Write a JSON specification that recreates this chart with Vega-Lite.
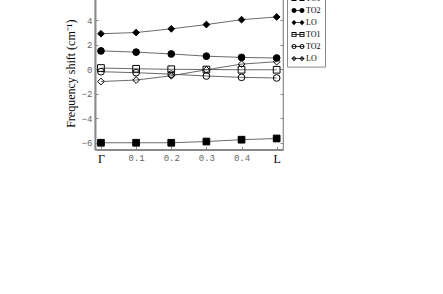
{
  "$schema": "https://vega.github.io/schema/vega-lite/v6.json",
  "autosize": {"type": "none"},
  "padding": {"left": 95, "top": -3, "right": 160, "bottom": 144.5},
  "width": 188,
  "height": 152.5,
  "background": "white",
  "config": {
    "view": {"stroke": "#8a8a8a", "strokeWidth": 1.2},
    "axis": {"grid": false},
    "legend": {
      "orient": "none",
      "legendX": 192,
      "legendY": -6.4,
      "fillColor": "white",
      "strokeColor": "#8a8a8a",
      "padding": 4,
      "symbolSize": 42,
      "symbolStrokeWidth": 0,
      "symbolFillColor": "black",
      "symbolOffset": 3,
      "labelOffset": 4,
      "rowPadding": 4,
      "labelFont": "Liberation Serif",
      "labelFontSize": 8,
      "labelColor": "black"
    }
  },
  "data": {
    "values": [
      {"s": "TO1f", "q": 0.0, "v": -6.0}, {"s": "TO1f", "q": 0.1, "v": -6.0}, {"s": "TO1f", "q": 0.2, "v": -6.0},
      {"s": "TO1f", "q": 0.3, "v": -5.9}, {"s": "TO1f", "q": 0.4, "v": -5.75}, {"s": "TO1f", "q": 0.5, "v": -5.65},
      {"s": "TO2f", "q": 0.0, "v": 1.5}, {"s": "TO2f", "q": 0.1, "v": 1.4}, {"s": "TO2f", "q": 0.2, "v": 1.25},
      {"s": "TO2f", "q": 0.3, "v": 1.07}, {"s": "TO2f", "q": 0.4, "v": 0.97}, {"s": "TO2f", "q": 0.5, "v": 0.92},
      {"s": "LOf", "q": 0.0, "v": 2.9}, {"s": "LOf", "q": 0.1, "v": 3.0}, {"s": "LOf", "q": 0.2, "v": 3.3},
      {"s": "LOf", "q": 0.3, "v": 3.65}, {"s": "LOf", "q": 0.4, "v": 4.05}, {"s": "LOf", "q": 0.5, "v": 4.27},
      {"s": "TO1o", "q": 0.0, "v": 0.1}, {"s": "TO1o", "q": 0.1, "v": 0.04}, {"s": "TO1o", "q": 0.2, "v": 0.0},
      {"s": "TO1o", "q": 0.3, "v": -0.02}, {"s": "TO1o", "q": 0.4, "v": -0.04}, {"s": "TO1o", "q": 0.5, "v": -0.04},
      {"s": "TO2o", "q": 0.0, "v": -0.2}, {"s": "TO2o", "q": 0.1, "v": -0.28}, {"s": "TO2o", "q": 0.2, "v": -0.4},
      {"s": "TO2o", "q": 0.3, "v": -0.55}, {"s": "TO2o", "q": 0.4, "v": -0.66}, {"s": "TO2o", "q": 0.5, "v": -0.71},
      {"s": "LOo", "q": 0.0, "v": -1.0}, {"s": "LOo", "q": 0.1, "v": -0.88}, {"s": "LOo", "q": 0.2, "v": -0.53},
      {"s": "LOo", "q": 0.3, "v": -0.04}, {"s": "LOo", "q": 0.4, "v": 0.42}, {"s": "LOo", "q": 0.5, "v": 0.62}
    ]
  },
  "encoding": {
    "x": {
      "field": "q", "type": "quantitative",
      "scale": {"domain": [-0.017, 0.518], "nice": false, "zero": false},
      "axis": {
        "values": [0, 0.1, 0.2, 0.3, 0.4, 0.5],
        "title": null,
        "labelExpr": "datum.value == 0 ? 'Γ' : (datum.value > 0.45 ? 'L' : format(datum.value, '.1f'))",
        "labelFont": {"condition": {"test": "datum.value == 0 || datum.value > 0.45", "value": "Liberation Serif"}, "value": "Liberation Mono"},
        "labelFontSize": {"condition": {"test": "datum.value == 0 || datum.value > 0.45", "value": 12}, "value": 9},
        "labelColor": {"condition": {"test": "datum.value == 0 || datum.value > 0.45", "value": "black"}, "value": "#666666"},
        "labelPadding": 7,
        "labelFlush": false,
        "tickSize": -3,
        "tickColor": "#888888",
        "domainColor": "#8a8a8a",
        "domainWidth": 2
      }
    },
    "y": {
      "field": "v", "type": "quantitative",
      "scale": {"domain": [-6.55, 5.9], "nice": false, "zero": false}
    }
  },
  "layer": [
    {
      "mark": {"type": "line", "stroke": "#444444", "strokeWidth": 0.8},
      "encoding": {
        "detail": {"field": "s"},
        "y": {
          "field": "v", "type": "quantitative",
          "axis": {
            "values": [-6, -4, -2, 0, 2, 4],
            "title": "Frequency shift (cm⁻¹)",
            "titleFont": "Liberation Serif",
            "titleFontSize": 12,
            "titleFontWeight": "normal",
            "titleColor": "black",
            "titlePadding": 4,
            "labelFont": "Liberation Mono",
            "labelFontSize": 9,
            "labelColor": "#666666",
            "labelPadding": 6,
            "tickSize": -3,
            "tickColor": "#888888",
            "domainColor": "#8a8a8a",
            "domainWidth": 2
          }
        }
      }
    },
    {
      "mark": {"type": "point", "stroke": "black", "strokeWidth": 1, "opacity": 1, "size": 45},
      "encoding": {
        "y": {
          "field": "v", "type": "quantitative",
          "axis": {
            "orient": "right",
            "values": [-6, -4, -2, 0, 2, 4],
            "labels": false,
            "title": null,
            "domain": false,
            "tickSize": -3,
            "tickColor": "#888888"
          }
        },
        "shape": {
          "field": "s", "type": "nominal",
          "scale": {
            "domain": ["TO1f", "TO2f", "LOf", "TO1o", "TO2o", "LOo"],
            "range": ["square", "circle", "diamond", "square", "circle", "diamond"]
          },
          "legend": null
        },
        "fill": {
          "field": "s", "type": "nominal",
          "scale": {
            "domain": ["TO1f", "TO2f", "LOf", "TO1o", "TO2o", "LOo"],
            "range": ["black", "black", "black", "transparent", "transparent", "transparent"]
          },
          "legend": null
        }
      }
    },
    {
      "transform": [{"filter": "datum.q > 1"}],
      "mark": {"type": "point", "filled": true, "color": "black", "strokeWidth": 0, "opacity": 1},
      "encoding": {
        "y": {"field": "v", "type": "quantitative", "axis": null},
        "shape": {
          "field": "s", "type": "nominal",
          "scale": {
            "domain": ["TO1f", "TO2f", "LOf", "TO1o", "TO2o", "LOo"],
            "range": [
              "M-2,-0.77H-0.46V0.77H-2Z M0.46,-0.77H2V0.77H0.46Z M-0.46,-0.12H0.46V0.12H-0.46Z",
              "M-2,0A0.77,0.77 0 1,1 -0.46,0A0.77,0.77 0 1,1 -2,0Z M0.46,0A0.77,0.77 0 1,1 2,0A0.77,0.77 0 1,1 0.46,0Z M-0.46,-0.12H0.46V0.12H-0.46Z",
              "M-2,0L-1.23,-0.8L-0.46,0L-1.23,0.8Z M0.46,0L1.23,-0.8L2,0L1.23,0.8Z M-0.46,-0.12H0.46V0.12H-0.46Z",
              "M-2,-0.77H-0.46V0.77H-2Z M-1.72,-0.49V0.49H-0.74V-0.49Z M0.46,-0.77H2V0.77H0.46Z M0.74,-0.49V0.49H1.72V-0.49Z M-2,-0.12H2V0.12H-2Z",
              "M-2,0A0.77,0.77 0 1,1 -0.46,0A0.77,0.77 0 1,1 -2,0Z M-1.72,0A0.49,0.49 0 1,0 -0.74,0A0.49,0.49 0 1,0 -1.72,0Z M0.46,0A0.77,0.77 0 1,1 2,0A0.77,0.77 0 1,1 0.46,0Z M0.74,0A0.49,0.49 0 1,0 1.72,0A0.49,0.49 0 1,0 0.74,0Z M-2,-0.12H2V0.12H-2Z",
              "M-2,0L-1.23,-0.8L-0.46,0L-1.23,0.8Z M-1.64,0L-1.23,0.43L-0.82,0L-1.23,-0.43Z M0.46,0L1.23,-0.8L2,0L1.23,0.8Z M0.82,0L1.23,0.43L1.64,0L1.23,-0.43Z M-2,-0.12H2V0.12H-2Z"
            ]
          },
          "legend": {"title": null, "labelExpr": "replace(replace(datum.value, 'f', ''), 'o', '')"}
        }
      }
    }
  ],
  "resolve": {
    "scale": {"shape": "independent"},
    "axis": {"y": "independent"}
  }
}
